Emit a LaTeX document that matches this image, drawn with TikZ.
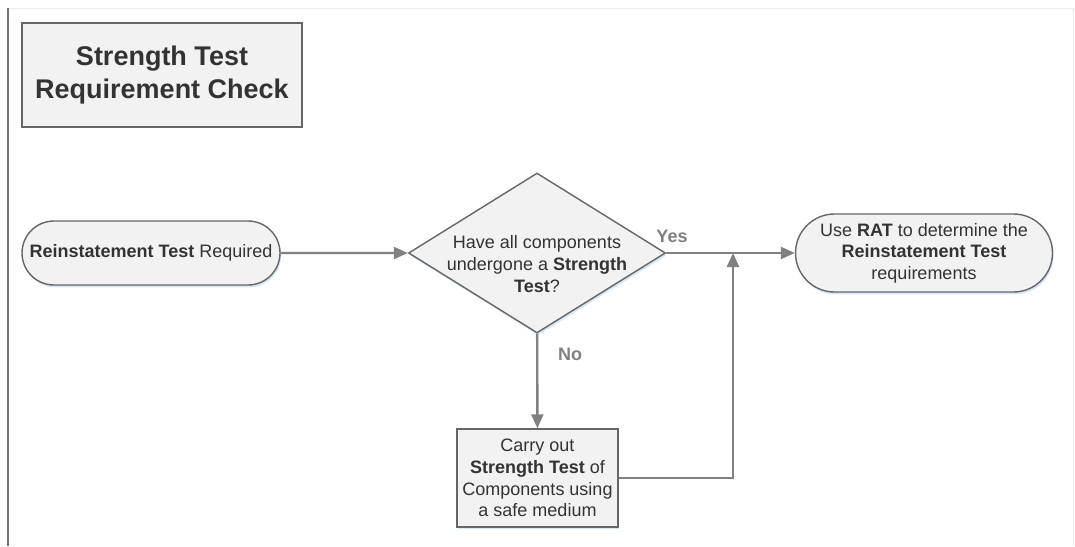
\documentclass[tikz,border=0pt]{standalone}
\usepackage{fontspec}
\setmainfont{Liberation Sans}
\usetikzlibrary{shapes.geometric,shapes.misc,arrows.meta,shadows}

\definecolor{boxfill}{HTML}{F2F2F2}
\definecolor{boxline}{HTML}{666666}
\definecolor{flowline}{HTML}{808080}
\definecolor{txt}{HTML}{333333}
\definecolor{shade}{HTML}{C9DDF0}

\tikzset{
  x=0.5pt, y=-0.5pt,
  txtsize/.style={font=\fontsize{9}{10.8}\selectfont, text=txt, align=center},
  shadowed/.style={drop shadow={shadow xshift=0.6pt, shadow yshift=-1.2pt, fill=shade, opacity=0.7}},
  terminal/.style={txtsize, rounded rectangle, draw=boxline, line width=0.7pt, fill=boxfill, shadowed, inner sep=0pt},
  decision/.style={diamond, draw=boxline, line width=0.7pt, fill=boxfill, shadowed, inner sep=0pt},
  process/.style={txtsize, rectangle, draw=boxline, line width=0.7pt, fill=boxfill, shadowed, inner sep=0pt},
  flow/.style={draw=flowline, line width=1.2pt, -{Triangle[length=7pt,width=6pt]}},
  branch/.style={font=\fontsize{9}{10.8}\selectfont\bfseries, text=flowline}
}

\begin{document}
\begin{tikzpicture}
\useasboundingbox (0,0) rectangle (1075,546);
% frame
\draw[black!8, line width=0.5pt] (8,8) -- (1073,8) -- (1073,546);
\draw[black!55, line width=1pt] (8,8) -- (8,546);

% title
\node[rectangle, draw=boxline, line width=0.8pt, fill=boxfill, minimum width=140pt, minimum height=52pt,
      font=\fontsize{13.5}{16.5}\selectfont\bfseries, text=txt, align=center] (title) at (162,75)
      {Strength Test\\Requirement Check};

% nodes
\node[terminal, minimum width=129pt, minimum height=32pt] (start) at (151,253)
      {\textbf{Reinstatement Test} Required};
\node[decision, minimum width=128.5pt, minimum height=80pt] (check) at (537,253) {};
\node[txtsize] (checktext) at (537,264)
      {Have all components\\undergone a \textbf{Strength}\\\textbf{Test}?};
\node[terminal, minimum width=128.5pt, minimum height=39pt] (use) at (924,253)
      {Use \textbf{RAT} to determine the\\\textbf{Reinstatement Test}\\requirements};
\node[process, minimum width=80.5pt, minimum height=49pt] (carry) at (537.5,478)
      {Carry out\\\textbf{Strength Test} of\\Components using\\a safe medium};
\coordinate (join) at (733,253);

% connectors
\draw[flow] (start) -- (check);
\draw[flow] (check) -- (use);
\draw[flow] (check) -- (carry);
\draw[flow] (carry.east) -| (join);

% labels
\node[branch] (yes) at (672,236) {Yes};
\node[branch] (no) at (570,354) {No};
\end{tikzpicture}
\end{document}
